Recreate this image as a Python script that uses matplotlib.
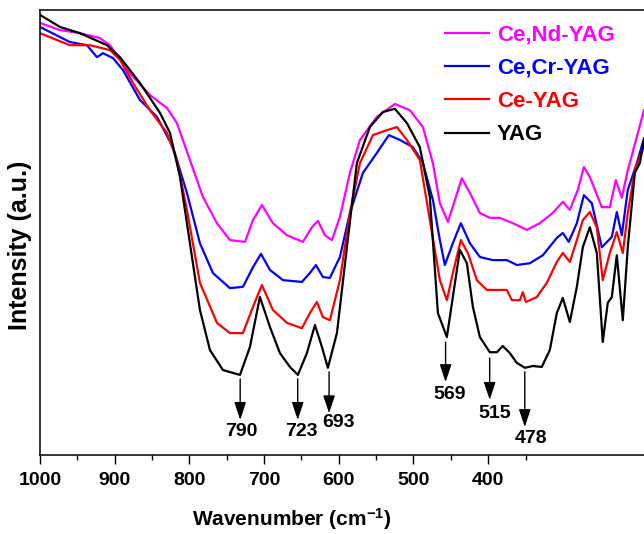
import numpy as np
import matplotlib
matplotlib.use("Agg")
import matplotlib.pyplot as plt

plt.rcParams['font.family'] = ['Liberation Sans', 'DejaVu Sans']
plt.rcParams['font.weight'] = 'bold'
plt.rcParams['mathtext.fontset'] = 'custom'
plt.rcParams['mathtext.rm'] = 'Liberation Sans:bold'
plt.rcParams['mathtext.default'] = 'rm'

# spectra (x in axis units, intensity in arbitrary units)
yag_x = [1000, 973.2, 946.5, 910.3, 892.9, 866.2, 839.4, 826.0, 812.6, 799.3,
         785.9, 772.5, 755.1, 732.3, 718.9, 705.6, 692.2, 678.8, 665.4, 654.7,
         642.7, 631.9, 622.6, 614.6, 602.5, 589.1, 575.8, 558.4, 540.9, 524.9,
         508.8, 491.5, 478.1, 467.3, 455.3, 447.3, 437.9, 428.5, 420.5, 411.1,
         397.8, 388.4, 380.4, 371.0, 361.6, 350.9, 340.2, 328.2, 317.5, 308.1,
         300.1, 290.7, 281.3, 273.3, 263.9, 254.6, 246.6, 239.9, 234.5, 227.8,
         219.8, 213.1, 203.7, 197.0, 191.4]
yag_y = [98.9, 96.2, 94.8, 92.1, 89.4, 83.6, 76.9, 72.4, 62.5, 47.6,
         32.6, 23.6, 19.1, 18.0, 24.3, 35.5, 28.8, 22.9, 19.8, 18.0,
         22.9, 29.2, 24.3, 19.6, 27.4, 46.7, 65.6, 73.7, 77.1, 77.8,
         74.6, 69.2, 58.0, 31.9, 26.5, 35.5, 46.1, 43.1, 33.3, 26.5,
         23.1, 23.1, 24.5, 22.9, 20.7, 19.6, 20.0, 19.8, 23.6, 31.9,
         35.3, 29.9, 37.8, 46.7, 51.2, 45.4, 25.4, 34.2, 35.5, 44.9,
         30.3, 46.7, 63.4, 65.6, 70.8]

ce_x = [1000, 959.9, 933.1, 906.3, 892.9, 875.5, 852.8, 830.0, 816.7, 803.3,
        785.9, 763.1, 745.7, 728.3, 714.9, 702.9, 688.2, 669.4, 649.4, 638.7,
        629.3, 621.3, 611.9, 598.5, 585.1, 571.7, 554.3, 535.6, 522.2, 508.8,
        491.5, 478.1, 464.7, 455.3, 447.3, 436.6, 427.2, 415.2, 401.8, 384.4,
        375.0, 368.3, 357.6, 353.6, 349.6, 334.9, 321.5, 308.1, 300.1, 290.7,
        281.3, 273.3, 263.9, 254.6, 246.6, 237.2, 227.8, 219.8, 213.1, 203.7,
        197.0, 191.4]
ce_y = [94.8, 92.1, 92.1, 91.0, 88.8, 83.6, 77.5, 72.4, 66.3, 55.1,
        38.7, 29.7, 27.4, 27.4, 33.3, 38.2, 32.6, 29.7, 28.5, 31.9,
        34.4, 31.0, 30.3, 39.3, 54.4, 65.6, 71.9, 73.0, 73.7, 70.8,
        66.3, 52.8, 39.3, 34.8, 40.9, 48.3, 45.4, 39.3, 37.1, 37.1,
        37.1, 34.8, 34.8, 36.6, 34.4, 35.5, 38.7, 43.4, 45.4, 43.4,
        48.3, 52.8, 54.6, 51.2, 39.3, 45.4, 50.1, 45.4, 54.4, 64.0,
        67.0, 69.2]

cecr_x = [1000, 959.9, 937.1, 923.7, 915.7, 902.3, 888.9, 866.2, 843.4, 822.0,
          803.3, 785.9, 768.5, 745.7, 728.3, 714.9, 704.2, 692.2, 674.8, 649.4,
          638.7, 630.6, 621.3, 611.9, 598.5, 585.1, 567.7, 549.0, 532.9, 518.2,
          500.8, 487.4, 474.0, 464.7, 458.0, 447.3, 436.6, 424.5, 411.1, 393.7,
          375.0, 361.6, 344.2, 326.8, 308.1, 300.1, 292.1, 281.3, 271.9, 261.3,
          247.9, 234.5, 227.8, 221.1, 213.1, 201.0, 191.4]
cecr_y = [96.2, 92.8, 92.1, 89.4, 90.3, 89.2, 86.5, 79.8, 76.0, 69.2,
          58.9, 47.6, 40.9, 37.5, 37.8, 42.2, 45.2, 41.6, 39.3, 38.9,
          40.9, 42.7, 40.0, 39.8, 44.5, 54.4, 63.4, 67.9, 71.9, 70.8,
          69.2, 65.6, 57.3, 48.3, 42.7, 47.6, 52.1, 47.6, 44.5, 43.8,
          43.8, 42.7, 43.1, 44.9, 48.8, 49.9, 47.9, 52.1, 58.4, 56.6,
          46.7, 49.0, 54.6, 49.4, 59.6, 65.6, 71.2]

cend_x = [1000, 973.2, 946.5, 919.7, 906.3, 879.6, 852.8, 830.0, 816.7, 799.3,
          781.9, 763.1, 745.7, 725.6, 714.9, 702.9, 688.2, 669.4, 648.0, 636.0,
          627.9, 618.6, 609.2, 598.5, 585.1, 571.7, 549.0, 524.9, 504.8, 487.4,
          474.0, 464.7, 453.9, 444.6, 435.2, 424.5, 411.1, 397.8, 384.4, 367.0,
          348.2, 330.8, 313.5, 300.1, 290.7, 280.0, 271.9, 263.9, 247.9, 237.2,
          229.1, 221.1, 213.1, 201.0, 191.4]
cend_y = [97.1, 95.5, 94.8, 93.7, 92.1, 85.8, 80.9, 78.0, 74.6, 66.3,
          58.0, 52.1, 48.3, 47.9, 52.8, 56.2, 52.1, 49.4, 47.9, 51.2,
          52.6, 49.4, 48.3, 53.5, 63.4, 70.8, 76.0, 78.9, 77.5, 73.7,
          65.6, 56.6, 52.4, 57.3, 62.2, 58.9, 54.4, 53.3, 53.3, 52.1,
          50.6, 52.1, 54.4, 56.9, 55.1, 59.6, 64.7, 62.5, 55.7, 55.7,
          61.8, 57.8, 64.0, 71.5, 77.5]

series_names = ['Ce,Nd-YAG', 'Ce,Cr-YAG', 'Ce-YAG', 'YAG']
series_colors = ['#ff00ff', '#0000ff', '#ff0000', '#000000']

peak_labels = ['790', '723', '693', '569', '515', '478']


def draw_peak(ax, label, x, y_top, y_tip, tx, ty):
    """Draws a down arrow with the band position under it."""
    ax.annotate('', xy=(x, y_tip), xytext=(x, y_top),
                arrowprops=dict(arrowstyle='-|>,head_width=0.3,head_length=0.9',
                                color='black', lw=1.0, mutation_scale=12,
                                shrinkA=0, shrinkB=0))
    ax.text(tx, ty, label, ha='center', va='center', fontsize=14,
            fontweight='bold')


fig = plt.figure(figsize=(6.44, 5.34), dpi=100)
ax = fig.add_axes([0.0621, 0.1479, 0.9379, 0.8333])

xs = [cend_x, cecr_x, ce_x, yag_x]
ys = [cend_y, cecr_y, ce_y, yag_y]
for x, y, name, c in zip(xs, ys, series_names, series_colors):
    ax.plot(x, y, color=c, lw=1.6, label=name)

arrow_x = [732, 655, 613, 457, 398, 351]
arrow_top = [17.1, 17.1, 18.7, 25.4, 21.8, 18.7]
arrow_tip = [7.9, 7.9, 9.4, 16.4, 12.4, 6.3]
text_x = [731, 650, 601, 451, 391, 342]
text_y = [5.2, 5.2, 7.2, 13.7, 9.4, 3.8]
for i, lab in enumerate(peak_labels):
    draw_peak(ax, lab, arrow_x[i], arrow_top[i], arrow_tip[i],
              text_x[i], text_y[i])

ax.set_xlim(1000, 191.4)
ax.set_ylim(0, 100)
ax.set_yticks([])
ax.set_xticks(np.arange(1000, 399, -100))
ax.set_xticks(np.arange(950, 349, -100), minor=True)
ax.tick_params(axis='x', which='major', length=6.5, width=1, direction='out',
               pad=6, labelsize=14)
ax.tick_params(axis='x', which='minor', length=3.6, width=1, direction='out')
ax.spines['right'].set_visible(False)
for s in ['left', 'top', 'bottom']:
    ax.spines[s].set_linewidth(1.1)

ax.set_xlabel(r'Wavenumber (cm$^{-1}$)', fontsize=15, fontweight='bold',
              va='top')
ax.xaxis.set_label_coords(0.417, -0.115)
ax.set_ylabel('Intensity (a.u.)', fontsize=18, fontweight='bold')
ax.yaxis.set_label_coords(-0.013, 0.472)

leg = ax.legend(loc='upper right', bbox_to_anchor=(0.985, 1.012),
                frameon=False, handlelength=2.0, handletextpad=0.35,
                labelspacing=0.55, labelcolor='linecolor',
                prop={'weight': 'bold', 'size': 16})

fig.savefig('out.png', dpi=100)
